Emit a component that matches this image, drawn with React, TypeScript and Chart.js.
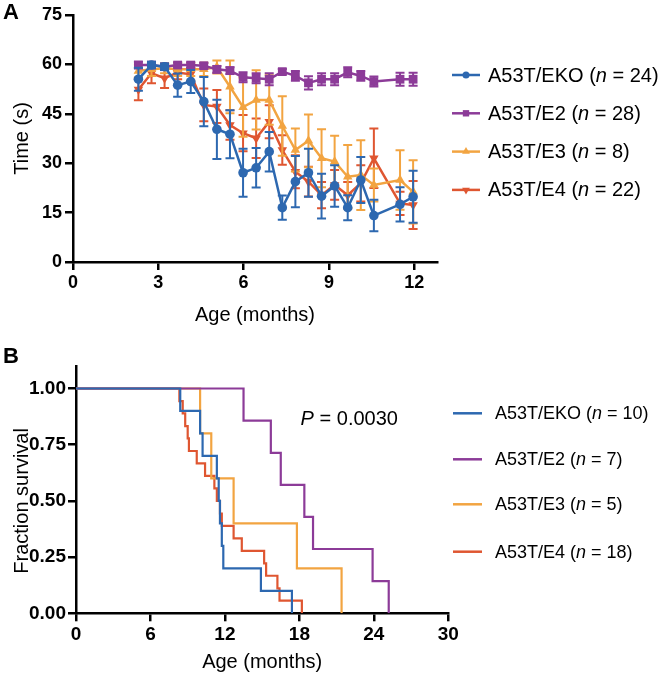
import React, { useEffect, useRef } from 'react';
import { Chart, registerables } from 'chart.js';
Chart.register(...registerables);

const FONT = "'Liberation Sans', Arial, Helvetica, sans-serif";

// ---------- shared ----------
const groupNames = ['A53T/EKO', 'A53T/E2', 'A53T/E3', 'A53T/E4'];
const groupColors = ['#2d68b0', '#8c3b98', '#f2a441', '#df5631'];
const markerStyles = ['circle', 'rect', 'triangle', 'triangleDown'];
const nBehaviour = [24, 28, 8, 22];
const nSurvival = [10, 7, 5, 18];

// ---------- panel A : hanging time (s) vs age (months) ----------
const agesA = [2.3, 2.76, 3.22, 3.68, 4.14, 4.6, 5.06, 5.52, 5.98, 6.44, 6.9, 7.36, 7.82, 8.28, 8.74, 9.2, 9.66, 10.12, 10.58, 11.5, 11.96];
const ekoMean = [55.5, 59.8, 59.3, 53.7, 54.8, 48.7, 40.3, 38.8, 27.1, 28.6, 33.5, 16.5, 24.4, 27.1, 20.0, 23.1, 16.5, 24.9, 14.1, 17.5, 19.8];
const ekoErr = [3.5, 1, 1, 3.5, 3.5, 7.5, 9, 7.3, 7.3, 6, 6, 3.7, 7.8, 7.3, 6.8, 6.3, 3.8, 7, 4.8, 5.2, 7.9];
const e2Mean = [59.8, 59.8, 59.3, 59.8, 59.8, 59.6, 58.5, 58.1, 56.1, 55.8, 55.5, 57.8, 56.5, 54.4, 55.5, 55.5, 57.6, 56.5, 54.8, 55.5, 55.5];
const e2Err = [1, 0.8, 0.8, 0.8, 0.8, 0.8, 1, 1, 1.5, 1.5, 1.8, 0.8, 1.5, 2, 1.8, 1.8, 1.5, 1.5, 1.5, 2, 2];
const e3Mean = [58, 58.5, 58.8, 58.5, 58.5, 58.5, 59.2, 53.2, 47, 49.2, 49.2, 41.3, 34.0, 36.8, 31.5, 30.5, 25.9, 26.4, 23.4, 24.9, 21.3];
const e3Err = [2, 2, 1.5, 2, 2, 2, 2, 8, 9, 9, 7.5, 9, 6.5, 8, 8.8, 7.8, 9.6, 10.6, 5, 9, 9.6];
const e4Mean = [52.4, 57.3, 55.8, 57.5, 57.0, 47.7, 47.2, 41.6, 39.1, 37.6, 42.6, 34.0, 27.4, 24.4, 20.3, 23.4, 20.3, 23.9, 31.5, 17.8, 17.3];
const e4Err = [3.3, 3, 3, 2, 2, 5, 5, 4.5, 5.5, 6, 5, 4.5, 5, 4.5, 4, 4.5, 4, 5.5, 9, 3.5, 7.3];
const xTicksA = [0, 3, 6, 9, 12];
const yTicksA = [0, 15, 30, 45, 60, 75];

// ---------- panel B : Kaplan-Meier survival ----------
const ekoTimes = [0, 8.4, 10.0, 10.2, 11.35, 11.5, 11.6, 11.75, 11.87, 14.9, 17.4];
const ekoSurv = [1, 0.9, 0.8, 0.7, 0.6, 0.5, 0.4, 0.3, 0.2, 0.1, 0];
const e2Times = [0, 13.5, 15.7, 16.5, 18.4, 19.1, 23.9, 25.2];
const e2Surv = [1, 0.857, 0.714, 0.571, 0.429, 0.286, 0.143, 0];
const e3Times = [0, 10.0, 10.9, 12.7, 17.8, 21.4];
const e3Surv = [1, 0.8, 0.6, 0.4, 0.2, 0];
const e4Times = [0, 8.33, 8.6, 8.8, 9.0, 9.1, 9.73, 10.4, 11.15, 11.35, 11.6, 11.75, 12.7, 13.36, 15.16, 15.32, 16.23, 16.4, 18.2];
const e4Surv = [1, 0.944, 0.889, 0.833, 0.778, 0.722, 0.667, 0.611, 0.556, 0.5, 0.444, 0.389, 0.333, 0.278, 0.222, 0.167, 0.111, 0.056, 0];
const xTicksB = [0, 6, 12, 18, 24, 30];
const yTicksB = [0, 0.25, 0.5, 0.75, 1];
const pValue = '0.0030';
const pPos = { x: 18.1, y: 0.863 };

// ---------- helpers ----------
type Part = [string, boolean];
function drawRich(ctx: CanvasRenderingContext2D, x: number, y: number, parts: Part[], size: number) {
  let cx = x;
  ctx.textAlign = 'left';
  ctx.textBaseline = 'middle';
  ctx.fillStyle = '#000';
  for (const [t, it] of parts) {
    ctx.font = `${it ? 'italic ' : ''}${size}px ${FONT}`;
    ctx.fillText(t, cx, y);
    cx += ctx.measureText(t).width;
  }
}

function drawMarker(ctx: CanvasRenderingContext2D, style: string, x: number, y: number, r: number, color: string) {
  ctx.save();
  ctx.fillStyle = color;
  ctx.beginPath();
  if (style === 'circle') {
    ctx.arc(x, y, r, 0, Math.PI * 2);
  } else if (style === 'rect') {
    const s = r * Math.SQRT1_2;
    ctx.rect(x - s, y - s, 2 * s, 2 * s);
  } else {
    const down = style === 'triangleDown';
    let a = down ? Math.PI : 0;
    for (let k = 0; k < 3; k++) {
      const px = x + Math.sin(a) * r;
      const py = y - Math.cos(a) * r;
      if (k === 0) ctx.moveTo(px, py); else ctx.lineTo(px, py);
      a += (2 * Math.PI) / 3;
    }
    ctx.closePath();
  }
  ctx.fill();
  ctx.restore();
}

const panelLabel = (letter: string, x: number, y: number) => ({
  id: 'panelLabel' + letter,
  afterDraw(chart: any) {
    const ctx = chart.ctx;
    ctx.save();
    ctx.font = `bold 22px ${FONT}`;
    ctx.fillStyle = '#000';
    ctx.textAlign = 'left';
    ctx.textBaseline = 'middle';
    ctx.fillText(letter, x, y);
    ctx.restore();
  },
});

const errorBarPlugin = {
  id: 'errorBars',
  beforeDatasetDraw(chart: any, args: any) {
    const ds = chart.data.datasets[args.index];
    if (!ds.errors) return;
    const ctx = chart.ctx;
    const xs = chart.scales.x;
    const ys = chart.scales.y;
    ctx.save();
    ctx.strokeStyle = ds.borderColor;
    ctx.lineWidth = 2;
    const cap = 4.5;
    ds.data.forEach((p: any, i: number) => {
      const e = ds.errors[i];
      const px = xs.getPixelForValue(p.x);
      const y1 = ys.getPixelForValue(p.y + e);
      const y2 = ys.getPixelForValue(p.y - e);
      ctx.beginPath();
      ctx.moveTo(px, y1); ctx.lineTo(px, y2);
      ctx.moveTo(px - cap, y1); ctx.lineTo(px + cap, y1);
      ctx.moveTo(px - cap, y2); ctx.lineTo(px + cap, y2);
      ctx.stroke();
    });
    ctx.restore();
  },
};

const legendA = {
  id: 'legendA',
  afterDraw(chart: any) {
    const ctx = chart.ctx;
    const y0 = 75, dy = 38.3;
    groupNames.forEach((name, i) => {
      const y = y0 + i * dy;
      ctx.save();
      ctx.strokeStyle = groupColors[i];
      ctx.lineWidth = 2.5;
      ctx.beginPath(); ctx.moveTo(452, y); ctx.lineTo(480, y); ctx.stroke();
      ctx.restore();
      drawMarker(ctx, markerStyles[i], 466, y, markerStyles[i] === 'circle' ? 3.5 : 4.5, groupColors[i]);
      drawRich(ctx, 488, y + 1, [[`${name} (`, false], ['n', true], [` = ${nBehaviour[i]})`, false]], 20);
    });
  },
};

const legendB = {
  id: 'legendB',
  afterDraw(chart: any) {
    const ctx = chart.ctx;
    const ys = [73.3, 119.3, 164.3, 211.7];
    groupNames.forEach((name, i) => {
      const y = ys[i];
      ctx.save();
      ctx.strokeStyle = groupColors[i];
      ctx.lineWidth = 2.5;
      ctx.beginPath(); ctx.moveTo(453, y); ctx.lineTo(482, y); ctx.stroke();
      ctx.restore();
      drawRich(ctx, 495, y + 1, [[`${name} (`, false], ['n', true], [` = ${nSurvival[i]})`, false]], 18);
    });
    const px = chart.scales.x.getPixelForValue(pPos.x);
    const py = chart.scales.y.getPixelForValue(pPos.y);
    drawRich(ctx, px, py, [['P', true], [` = ${pValue}`, false]], 20);
    // y-axis title, centred on the 0..1 range
    const yc = (chart.scales.y.getPixelForValue(0) + chart.scales.y.getPixelForValue(1)) / 2;
    ctx.save();
    ctx.translate(22, yc);
    ctx.rotate(-Math.PI / 2);
    ctx.font = `20px ${FONT}`;
    ctx.fillStyle = '#000';
    ctx.textAlign = 'center';
    ctx.textBaseline = 'middle';
    ctx.fillText('Fraction survival', 0, 0);
    ctx.restore();
  },
};

function axisCommon(ticks: number[], fmt: (v: number) => string, tickPad: number, size: number) {
  return {
    type: 'linear' as const,
    afterBuildTicks: (s: any) => { s.ticks = ticks.map((v) => ({ value: v })); },
    grid: { drawOnChartArea: false, drawTicks: true, tickLength: 8, tickWidth: 2.5, tickColor: '#000', color: '#000', lineWidth: 2.5 },
    border: { display: true, color: '#000', width: 2.5 },
    ticks: { color: '#000', font: { family: FONT, size, weight: 'bold' as const }, padding: tickPad, callback: (v: any) => fmt(Number(v)), maxRotation: 0, autoSkip: false },
  };
}

function fixSize(w: number | null, h: number | null) {
  return (s: any) => {
    if (w !== null) s.width = w;
    if (h !== null) s.height = h;
    s.paddingLeft = 0; s.paddingRight = 0; s.paddingTop = 0; s.paddingBottom = 0;
  };
}

export default function App() {
  const refA = useRef<HTMLCanvasElement>(null);
  const refB = useRef<HTMLCanvasElement>(null);

  useEffect(() => {
    const meansA = [ekoMean, e2Mean, e3Mean, e4Mean];
    const errsA = [ekoErr, e2Err, e3Err, e4Err];
    const radii = [4.8, 6.2, 5.5, 5.5];
    const chartA = new Chart(refA.current!, {
      type: 'line',
      data: {
        datasets: groupNames.map((name, i) => ({
          label: name,
          data: agesA.map((a, k) => ({ x: a, y: meansA[i][k] })),
          errors: errsA[i],
          borderColor: groupColors[i],
          backgroundColor: groupColors[i],
          pointBackgroundColor: groupColors[i],
          pointBorderColor: groupColors[i],
          pointBorderWidth: 0,
          borderWidth: 2.5,
          pointStyle: markerStyles[i] === 'triangleDown' ? 'triangle' : markerStyles[i],
          pointRotation: markerStyles[i] === 'triangleDown' ? 180 : 0,
          pointRadius: radii[i],
          tension: 0,
          clip: false,
        })) as any,
      },
      options: {
        responsive: false,
        animation: false,
        events: [],
        layout: { padding: { left: 0, top: 15, right: 223, bottom: 0 } },
        plugins: { legend: { display: false }, tooltip: { enabled: false } },
        scales: {
          x: {
            ...axisCommon(xTicksA, (v) => String(v), 2, 18),
            min: 0, max: 12.8,
            afterFit: fixSize(null, 78),
            title: { display: true, text: 'Age (months)', color: '#000', font: { family: FONT, size: 20 }, padding: { top: 0, bottom: 13 } },
          },
          y: {
            ...axisCommon(yTicksA, (v) => String(v), 3, 18),
            min: 0, max: 75,
            afterFit: fixSize(73, null),
            title: { display: true, text: 'Time (s)', color: '#000', font: { family: FONT, size: 20 }, padding: { top: 10, bottom: 0 } },
          },
        } as any,
      },
      plugins: [errorBarPlugin, legendA, panelLabel('A', 3, 13)],
    });

    const timesB = [ekoTimes, e2Times, e3Times, e4Times];
    const survB = [ekoSurv, e2Surv, e3Surv, e4Surv];
    const chartB = new Chart(refB.current!, {
      type: 'line',
      data: {
        datasets: groupNames.map((name, i) => ({
          label: name,
          data: timesB[i].map((t, k) => ({ x: t, y: survB[i][k] })),
          borderColor: groupColors[i],
          backgroundColor: groupColors[i],
          borderWidth: 2.2,
          pointRadius: 0,
          stepped: 'before',
          tension: 0,
        })) as any,
      },
      options: {
        responsive: false,
        animation: false,
        events: [],
        layout: { padding: { left: 0, top: 26, right: 211.7, bottom: 0 } },
        plugins: { legend: { display: false }, tooltip: { enabled: false } },
        scales: {
          x: {
            ...axisCommon(xTicksB, (v) => String(v), 2, 19),
            min: 0, max: 30,
            afterFit: fixSize(null, 65.7),
            title: { display: true, text: 'Age (months)', color: '#000', font: { family: FONT, size: 20 }, padding: { top: 0, bottom: 5 } },
          },
          y: {
            ...axisCommon(yTicksB, (v) => v.toFixed(2), 2, 19),
            min: 0, max: 1.1,
            afterFit: fixSize(76, null),
            title: { display: false },
          },
        } as any,
      },
      plugins: [legendB, panelLabel('B', 3, 17)],
    });

    return () => { chartA.destroy(); chartB.destroy(); };
  }, []);

  return (
    <div style={{ position: 'fixed', left: 0, top: 0, width: 660, height: 679, background: '#fff' }}>
      <canvas ref={refA} width={660} height={340} style={{ display: 'block', width: 660, height: 340 }} />
      <canvas ref={refB} width={660} height={339} style={{ display: 'block', width: 660, height: 339 }} />
    </div>
  );
}
